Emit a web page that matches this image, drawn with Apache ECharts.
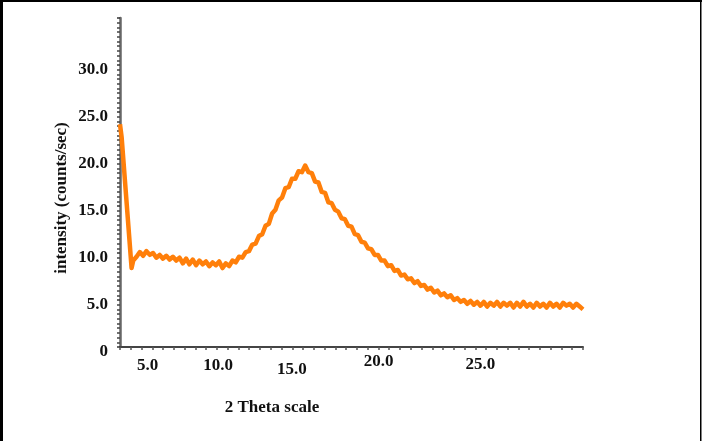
<!DOCTYPE html>
<html>
<head>
<meta charset="utf-8">
<script src="https://cdn.jsdelivr.net/npm/echarts@6/dist/echarts.min.js"></script>
<style>
html,body{margin:0;padding:0;background:#fff;}
#c{width:704px;height:441px;}
</style>
</head>
<body>
<div id="c"></div>
<script>
// ---- data ----
const theta = [
  4.0, 4.1, 4.7, 4.8, 5.0, 5.2, 5.4, 5.6, 5.8, 6.0, 6.2, 6.4, 6.6, 6.8, 7.0, 7.2, 7.4, 7.6, 7.8,
  8.0, 8.2, 8.4, 8.6, 8.8, 9.0, 9.2, 9.4, 9.6, 9.8, 10.0, 10.2, 10.4, 10.6, 10.8,
  11.0, 11.2, 11.4, 11.6, 11.8, 12.0, 12.2, 12.4, 12.6, 12.8, 13.0, 13.2, 13.4, 13.6, 13.8,
  14.0, 14.2, 14.4, 14.6, 14.8, 15.0, 15.2, 15.4, 15.6, 15.8, 16.0, 16.2, 16.4, 16.6, 16.8,
  17.0, 17.2, 17.4, 17.6, 17.8, 18.0, 18.2, 18.4, 18.6, 18.8, 19.0, 19.2, 19.4, 19.6, 19.8,
  20.0, 20.2, 20.4, 20.6, 20.8, 21.0, 21.2, 21.4, 21.6, 21.8, 22.0, 22.2, 22.4, 22.6, 22.8,
  23.0, 23.2, 23.4, 23.6, 23.8, 24.0, 24.2, 24.4, 24.6, 24.8, 25.0, 25.2, 25.4, 25.6, 25.8,
  26.0, 26.2, 26.4, 26.6, 26.8, 27.0, 27.2, 27.4, 27.6, 27.8, 28.0, 28.2, 28.4, 28.6, 28.8,
  29.0, 29.2, 29.4, 29.6, 29.8, 30.0, 30.2, 30.4, 30.6, 30.8, 31.0, 31.2, 31.4, 31.6, 31.8, 32.0
];
const intensity = [
  23.7, 22.3, 8.4, 9.2, 9.6, 10.1, 9.7, 10.2, 9.8, 10.0, 9.5, 9.8, 9.4, 9.7, 9.3, 9.6, 9.2, 9.5, 8.9,
  9.4, 8.8, 9.3, 8.7, 9.2, 8.8, 9.1, 8.6, 9.0, 8.7, 9.1, 8.4, 8.9, 8.6, 9.2,
  9.0, 9.6, 9.5, 10.1, 10.2, 10.9, 11.0, 11.8, 12.0, 12.9, 13.1, 14.2, 14.6, 15.6, 15.9,
  16.9, 17.0, 17.9, 17.9, 18.7, 18.6, 19.3, 18.6, 18.5, 17.6, 17.5, 16.5, 16.4, 15.4, 15.3,
  14.6, 14.4, 13.7, 13.6, 12.9, 12.8, 12.0, 11.9, 11.2, 11.1, 10.5, 10.4, 9.8, 9.8, 9.2,
  9.2, 8.6, 8.7, 8.1, 8.2, 7.6, 7.7, 7.2, 7.3, 6.8, 7.0, 6.5, 6.6, 6.1, 6.3,
  5.8, 6.0, 5.5, 5.7, 5.3, 5.5, 5.0, 5.2, 4.8, 5.0, 4.6, 4.9, 4.5, 4.8, 4.4,
  4.8, 4.3, 4.7, 4.4, 4.8, 4.3, 4.7, 4.4, 4.7, 4.2, 4.7, 4.3, 4.8, 4.3, 4.6,
  4.2, 4.7, 4.3, 4.6, 4.2, 4.7, 4.3, 4.6, 4.2, 4.7, 4.4, 4.6, 4.2, 4.6, 4.3, 4.0
];
const xTickLabels = [5, 10, 15, 20, 25];
const yTickLabels = [0, 5, 10, 15, 20, 25, 30];
const xName = '2 Theta scale';
const yName = 'intensity (counts/sec)';

// ---- styling ----
const FONT = '"Liberation Serif", "Times New Roman", serif';
// per-label nudges [dx, dy] that mimic the hand-placed labels of the reference
const xLabelNudge = {5: [11, 0], 10: [-1, 0], 15: [-10, 4], 20: [-6, -4], 25: [13, -1]};

const rich = {};
xTickLabels.forEach(v => {
  const n = xLabelNudge[v] || [0, 0];
  rich['l' + v] = {
    fontFamily: FONT, fontWeight: 'bold', fontSize: 17, color: '#111',
    padding: [4 + n[1], n[0] < 0 ? -n[0] * 2 : 0, 0, n[0] > 0 ? n[0] * 2 : 0]
  };
});
const yRich = {
  y: {fontFamily: FONT, fontWeight: 'bold', fontSize: 17, color: '#111', padding: [9, 0, 0, 0]}
};

const xMin = 4, xMax = 32;
const xMinorTicks = [];
for (let i = 0; i <= 43; i++) xMinorTicks.push(xMin + (xMax - xMin) * i / 43);

const chart = echarts.init(document.getElementById('c'), null, {renderer: 'canvas'});
chart.setOption({
  animation: false,
  backgroundColor: '#fff',
  grid: {left: 120, right: 121, top: 18, bottom: 94, containLabel: false},
  xAxis: {
    type: 'value', min: xMin, max: xMax,
    splitLine: {show: false},
    axisLine: {show: true, lineStyle: {color: '#444', width: 2}},
    axisTick: {show: true, customValues: xMinorTicks, length: 3, lineStyle: {color: '#555', width: 1.5}},
    axisLabel: {
      show: true, customValues: xTickLabels, margin: 6,
      formatter: v => '{l' + Math.round(v) + '|' + v.toFixed(1) + '}',
      rich: rich
    }
  },
  yAxis: {
    type: 'value', min: 0, max: 35, interval: 5,
    splitLine: {show: false},
    axisLine: {show: true, lineStyle: {color: '#666', width: 2.5}},
    axisTick: {show: true, length: 3, lineStyle: {color: '#333', width: 1.5}},
    minorTick: {show: true, splitNumber: 10, length: 3, lineStyle: {color: '#444', width: 1.5}},
    axisLabel: {
      show: true, margin: 12,
      customValues: yTickLabels,
      formatter: v => '{y|' + (v === 0 ? '0' : v.toFixed(1)) + '}',
      rich: yRich
    }
  },
  series: [{
    type: 'line',
    data: theta.map((t, i) => [t, intensity[i]]),
    showSymbol: false,
    smooth: false,
    lineStyle: {color: '#ff7f0a', width: 4.5, join: 'round'},
    itemStyle: {color: '#ff7f0a'}
  }],
  graphic: [
    {type: 'text', x: 272, y: 408, style: {text: xName, font: 'bold 17px ' + FONT, fill: '#111', textAlign: 'center', textVerticalAlign: 'middle'}},
    {type: 'text', x: 62, y: 198, rotation: Math.PI / 2, style: {text: yName, font: 'bold 17px ' + FONT, fill: '#111', textAlign: 'center', textVerticalAlign: 'middle'}},
    {type: 'rect', shape: {x: 0, y: 0, width: 3, height: 441}, style: {fill: '#000'}},
    {type: 'rect', shape: {x: 0, y: 0, width: 702, height: 2}, style: {fill: '#000'}},
    {type: 'rect', shape: {x: 700, y: 0, width: 1.5, height: 441}, style: {fill: '#000'}}
  ]
});
</script>
</body>
</html>
